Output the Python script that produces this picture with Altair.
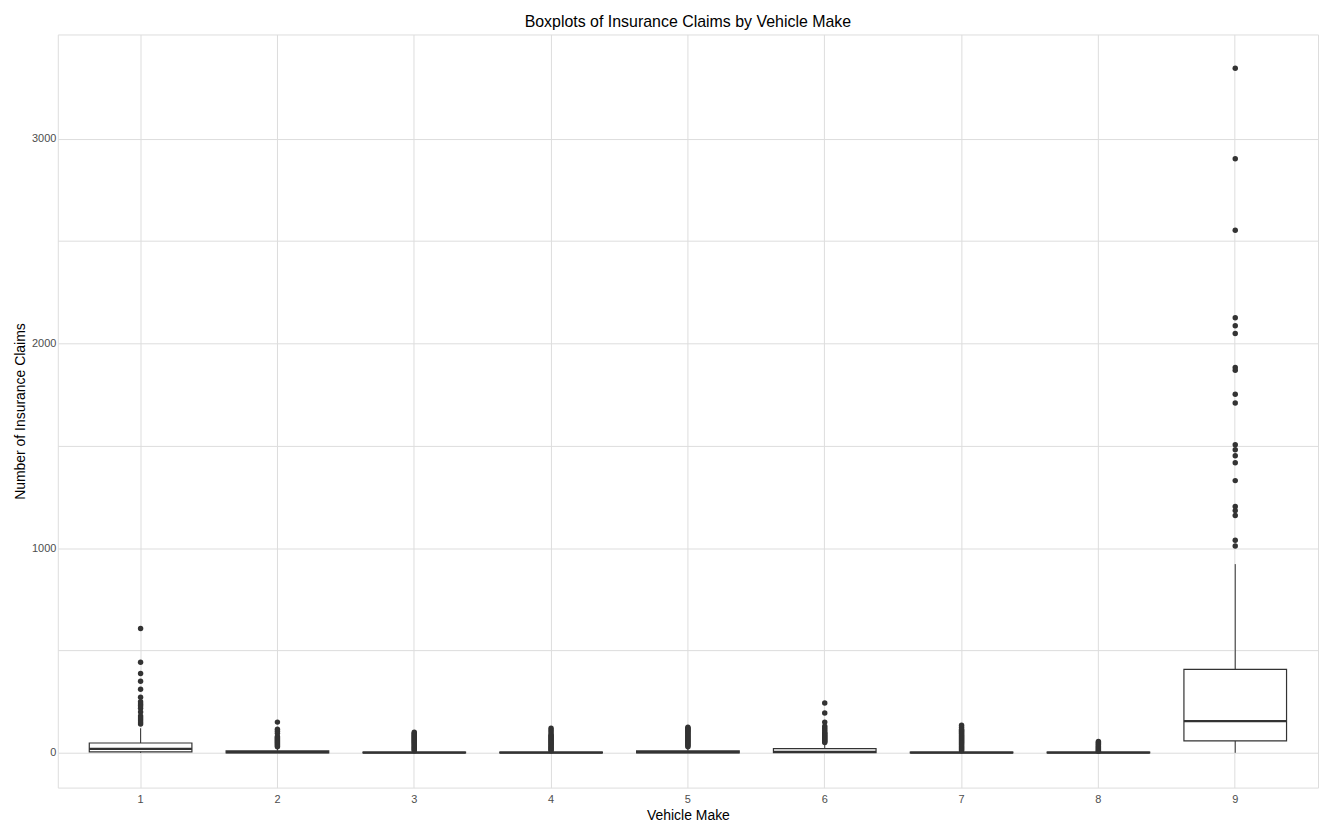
import altair as alt
import pandas as pd

makes = ["1", "2", "3", "4", "5", "6", "7", "8", "9"]
lower = [0, 0, 0, 0, 0, 0, 0, 0, 0]
q1 = [5, 0, 0, 0, 0, 1, 0, 0, 58]
median = [19, 3, 1, 1, 3, 5, 1, 1, 155]
q3 = [48, 10, 3, 3, 10, 20, 4, 3, 408]
upper = [120, 25, 8, 9, 25, 48, 10, 6, 922]

outliers = {
    "1": [607, 442, 388, 350, 311, 272, 238, 218, 199, 180, 160, 141, 230, 250, 170, 150],
    "2": [150, 115, 105, 95, 80, 75, 70, 65, 60, 55, 50, 45, 40, 35, 30],
    "3": [100, 95, 90, 85, 80, 75, 70, 65, 60, 55, 50, 45, 40, 35, 30, 25, 20, 15, 10],
    "4": [120, 110, 100, 90, 85, 80, 75, 70, 65, 60, 55, 50, 45, 40, 35, 30, 25, 20, 15, 10],
    "5": [125, 120, 115, 110, 105, 100, 95, 90, 85, 80, 75, 70, 65, 60, 55, 50, 45, 40, 35, 30],
    "6": [243, 194, 150, 130, 120, 110, 100, 95, 90, 85, 80, 75, 70, 65, 60, 55, 50],
    "7": [135, 125, 115, 110, 105, 100, 95, 90, 85, 80, 75, 70, 65, 60, 55, 50, 45, 40, 35, 30, 25, 20, 15, 10],
    "8": [55, 50, 45, 40, 35, 30, 25, 20, 15, 10, 7],
    "9": [3345, 2903, 2553, 2126, 2087, 2049, 1883, 1869, 1752, 1709, 1505,
          1481, 1451, 1417, 1330, 1204, 1184, 1160, 1039, 1010],
}

stats = pd.DataFrame({"make": makes, "lower": lower, "q1": q1, "median": median,
                      "q3": q3, "upper": upper})
pts = pd.DataFrame([{"make": k, "claims": v} for k, vs in outliers.items() for v in vs])

x = alt.X("make:N", title="Vehicle Make", sort=makes,
          scale=alt.Scale(paddingInner=0.25, paddingOuter=0.23),
          axis=alt.Axis(labelAngle=0, grid=True, ticks=False, domain=False,
                        labelColor="#4d4d4d", labelFontSize=11, titleFontSize=14,
                        titleFontWeight="normal", labelPadding=6, bandPosition=0.5))
yscale = alt.Scale(domain=[-170, 3510], nice=False, zero=False)
yaxis = alt.Axis(values=[0, 500, 1000, 1500, 2000, 2500, 3000],
                 labelExpr="datum.value % 1000 == 0 ? datum.label : ''",
                 format="d", ticks=False, domain=False, labelColor="#4d4d4d",
                 labelFontSize=11, titleFontSize=14, titleFontWeight="normal")

base = alt.Chart(stats).encode(x=x)
whisker = base.mark_rule(color="#333333").encode(
    y=alt.Y("lower:Q", scale=yscale, axis=yaxis, title="Number of Insurance Claims"),
    y2="upper:Q")
box = base.mark_bar(width={"band": 1}, fill="white", stroke="#333333",
                    strokeWidth=1.2).encode(y="q1:Q", y2="q3:Q")
med = base.mark_tick(color="#333333", thickness=2.2, size=103, opacity=1).encode(y="median:Q")
dots = alt.Chart(pts).mark_circle(color="#333333", opacity=1, size=30).encode(
    x=alt.X("make:N", sort=makes), y="claims:Q")

chart = (whisker + box + med + dots).properties(
    width=1265, height=756,
    title=alt.Title("Boxplots of Insurance Claims by Vehicle Make", fontSize=16,
                    fontWeight="normal", anchor="middle"),
).configure_view(strokeWidth=0).configure_axis(gridColor="#ebebeb").configure(
    font="Liberation Sans")

chart.save("out.html", embed_options={"renderer": "svg", "actions": False})
